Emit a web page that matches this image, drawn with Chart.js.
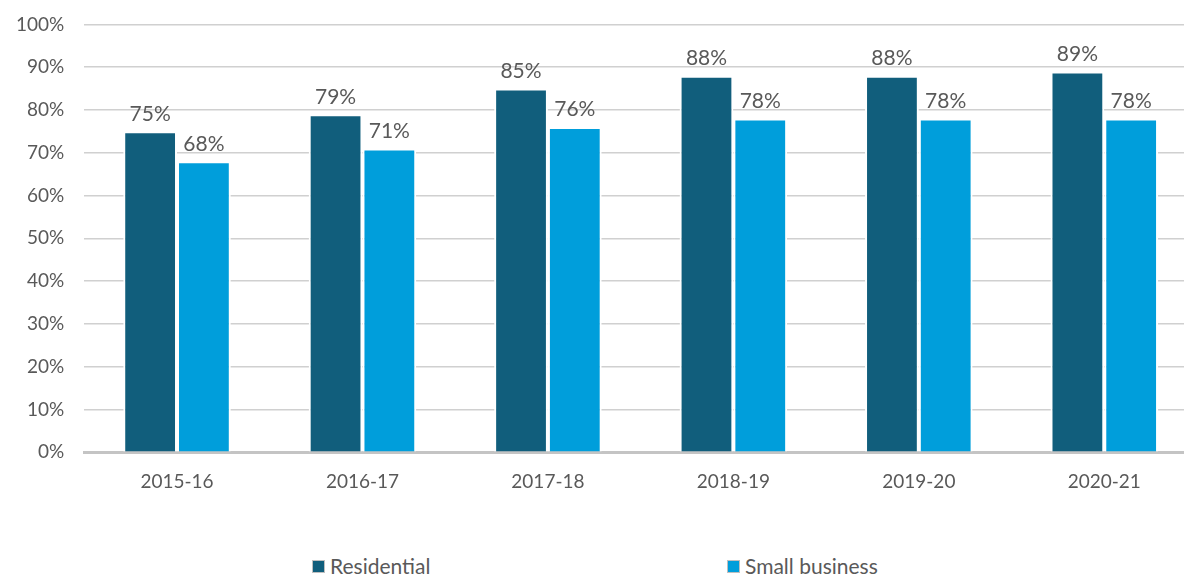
<!DOCTYPE html>
<html>
<head>
<meta charset="utf-8">
<script src="https://cdn.jsdelivr.net/npm/chart.js@4/dist/chart.umd.min.js"></script>
<style>
  html, body { margin: 0; padding: 0; background: #fff; overflow: hidden; }
  #wrap { position: relative; width: 1200px; height: 574px; }
  #bars { position: absolute; left: -4px; top: -7px; }
  #legend { position: absolute; top: 553px; left: 0; width: 1184px; font-family: Lato, sans-serif; font-size: 21px; color: #595959; }
  #legend span.item { position: absolute; white-space: nowrap; }
  #legend span.box { display: inline-block; width: 11px; height: 11px; margin-right: 5px; border: 1px solid #bfbfbf; vertical-align: 1px; }
</style>
</head>
<body>
<div id="wrap">
  <canvas id="bars" width="1201" height="510"></canvas>
  <div id="legend"></div>
</div>
<script>
var years = ["2015-16", "2016-17", "2017-18", "2018-19", "2019-20", "2020-21"];
var residential = [75, 79, 85, 88, 88, 89];
var smallBusiness = [68, 71, 76, 78, 78, 78];
var yTicks = [0, 10, 20, 30, 40, 50, 60, 70, 80, 90, 100];

var seriesNames = ["Residential", "Small business"];
var seriesColours = ["#115e7c", "#009edb"];
var legendLeft = [312, 727];

// value labels above each bar
var barLabels = {
    id: 'barLabels',
    afterDatasetsDraw: function (chart) {
        var ctx = chart.ctx;
        ctx.save();
        ctx.font = '21px Lato, sans-serif';
        ctx.fillStyle = '#595959';
        ctx.textAlign = 'center';
        ctx.textBaseline = 'bottom';
        chart.data.datasets.forEach(function (ds, i) {
            chart.getDatasetMeta(i).data.forEach(function (bar, j) {
                ctx.fillText(ds.data[j] + '%', bar.x, bar.y - 7);
            });
        });
        ctx.restore();
    }
};

new Chart(document.getElementById("bars"), {
    type: 'bar',
    data: {
        labels: years,
        datasets: [{
            label: seriesNames[0],
            data: residential,
            backgroundColor: seriesColours[0],
            borderColor: '#ffffff',
            borderWidth: 2
        }, {
            label: seriesNames[1],
            data: smallBusiness,
            backgroundColor: seriesColours[1],
            borderColor: '#ffffff',
            borderWidth: 2
        }]
    },
    options: {
        responsive: false,
        animation: false,
        layout: { padding: { top: 5, left: 0 } },
        datasets: {
            bar: { categoryPercentage: 0.58, barPercentage: 1.0 }
        },
        scales: {
            x: {
                grid: { display: false },
                border: { color: '#c4c4c4', width: 3 },
                ticks: { color: '#595959', font: { family: 'Lato', size: 19 }, padding: 10 }
            },
            y: {
                min: 0,
                max: 100,
                afterBuildTicks: function (axis) {
                    axis.ticks = yTicks.map(function (v) { return { value: v }; });
                },
                grid: { color: '#d0d0d0', lineWidth: 1.5, drawTicks: false },
                border: { display: false },
                ticks: {
                    color: '#595959',
                    font: { family: 'Lato', size: 19 },
                    padding: 20,
                    callback: function (v) { return v + '%'; }
                }
            }
        },
        plugins: {
            legend: { display: false },
            tooltip: { enabled: false }
        }
    },
    plugins: [barLabels]
});

// legend under the chart
var legend = document.getElementById('legend');
seriesNames.forEach(function (name, i) {
    var item = document.createElement('span');
    item.className = 'item';
    item.style.left = legendLeft[i] + 'px';
    var box = document.createElement('span');
    box.className = 'box';
    box.style.background = seriesColours[i];
    item.appendChild(box);
    item.appendChild(document.createTextNode(name));
    legend.appendChild(item);
});
</script>
</body>
</html>
